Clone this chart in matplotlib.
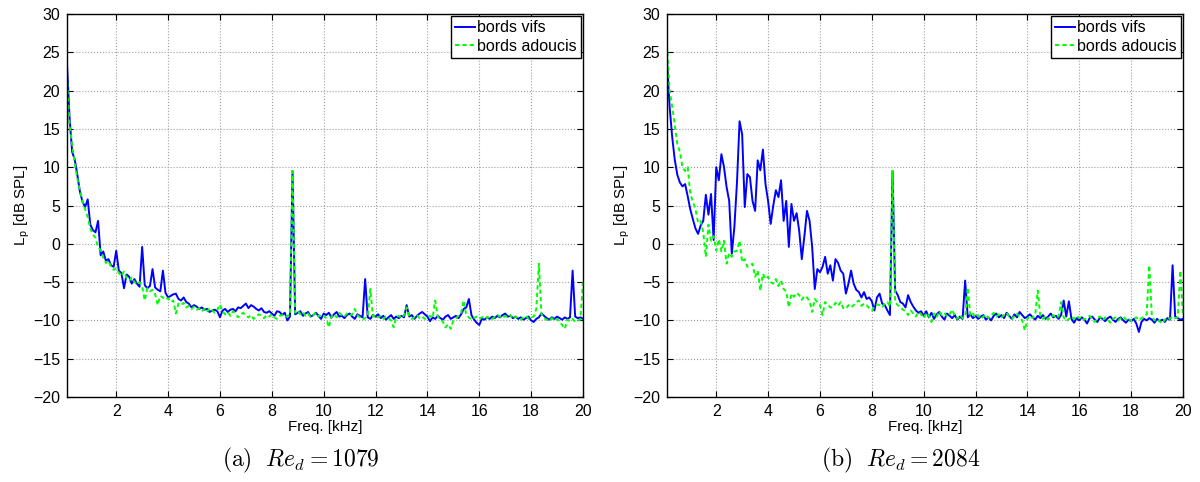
import numpy as np
import matplotlib
matplotlib.use("Agg")
import matplotlib.pyplot as plt

# Sound pressure level spectra, sharp edges vs rounded edges
# values, one point every 0.1 kHz from 0.1 to 20 kHz
freq = np.round(np.arange(1, 201) * 0.1, 1)

# (a) Re_d = 1079
vifs_a = [
    23.5, 16.5, 12.0, 11.0, 9.0, 6.8, 5.5, 4.8, 5.8, 2.5,
    1.8, 1.5, 3.0, -1.5, -1.0, -2.2, -2.0, -2.8, -3.0, -0.9,
    -3.5, -3.8, -5.8, -4.0, -4.3, -5.2, -4.6, -5.2, -5.6, -0.4,
    -5.4, -5.8, -5.5, -3.3, -5.7, -6.0, -6.2, -3.5, -6.4, -7.0,
    -6.8, -6.6, -6.5, -7.2, -7.4, -7.0, -7.6, -7.8, -8.3, -8.0,
    -8.2, -8.5, -8.3, -8.6, -8.5, -8.9, -8.7, -8.6, -8.8, -9.6,
    -8.7, -8.5, -8.9, -8.6, -8.5, -8.8, -8.3, -8.4, -8.1, -7.8,
    -8.4, -8.0, -8.2, -8.5, -8.7, -8.4, -8.9, -9.0, -8.8, -9.1,
    -9.4, -8.8, -8.9, -9.3, -9.0, -10.0, -9.5, 9.5, -9.2, -9.0,
    -8.8, -9.4, -9.1, -8.9, -9.5, -9.3, -9.0, -9.4, -9.8, -9.1,
    -9.3, -9.0, -9.6, -9.2, -8.9, -9.5, -9.4, -9.7, -9.3, -9.1,
    -9.5, -9.8, -9.2, -9.4, -9.6, -4.6, -9.6, -9.8, -9.3, -9.5,
    -9.2, -9.7, -9.4, -9.9, -9.6, -9.3, -9.8, -9.5, -9.7, -9.4,
    -9.6, -8.0, -9.5, -9.3, -9.8, -9.4, -9.1, -8.9, -9.2, -9.5,
    -10.1, -9.6, -9.8, -9.4, -9.7, -9.9, -9.5, -9.3, -9.8, -9.6,
    -9.4, -9.7, -9.2, -8.5, -8.3, -7.2, -9.3, -9.9, -10.3, -10.6,
    -9.8, -9.9, -9.6, -9.8, -9.5, -9.7, -9.4, -9.6, -9.3, -9.1,
    -9.5, -9.4, -9.7, -9.5, -9.8, -9.6, -9.9, -9.7, -9.5, -10.0,
    -10.2, -9.8, -9.6, -9.1, -9.4, -9.7, -9.9, -9.6, -9.8, -9.5,
    -9.7, -9.9, -9.6, -9.8, -9.6, -3.5, -9.5, -9.7, -9.6, -9.8,
]
adoucis_a = [
    22.0, 15.5, 13.0, 10.5, 8.5, 7.0, 5.6, 4.5, 3.5, 2.0,
    1.2, 0.8, -0.5, -0.8, -1.8, -2.5, -2.2, -3.0, -3.4, -3.2,
    -3.8, -4.2, -3.6, -4.5, -4.8, -4.4, -5.0, -5.3, -5.0, -5.6,
    -7.4, -5.8, -6.2, -6.0, -6.6, -8.0, -6.8, -7.0, -7.3, -7.1,
    -7.6, -7.4, -9.1, -7.8, -8.0, -7.7, -8.3, -8.1, -8.5, -8.2,
    -8.6, -8.4, -8.8, -8.5, -8.9, -8.4, -8.7, -9.0, -8.6, -7.9,
    -8.8, -9.2, -8.9, -9.4, -8.8, -9.1, -9.6, -9.2, -9.0, -9.4,
    -9.6, -9.3, -9.8, -9.5, -9.2, -9.4, -9.7, -9.3, -9.5, -9.2,
    -9.6, -9.8, -9.4, -9.3, -9.6, -9.4, -9.3, 9.5, -9.0, -8.7,
    -9.2, -8.9, -9.4, -9.1, -9.6, -9.3, -9.0, -9.5, -9.2, -9.4,
    -9.7, -10.9, -9.5, -9.2, -9.6, -9.0, -9.3, -9.5, -9.1, -9.4,
    -9.2, -8.5, -9.3, -9.6, -9.9, -9.7, -9.4, -5.9, -9.5, -9.3,
    -9.6, -9.4, -9.8, -9.5, -9.7, -10.0, -10.9, -9.6, -9.4, -9.7,
    -9.3, -8.3, -9.5, -9.8, -9.6, -9.3, -9.7, -9.5, -9.8, -9.6,
    -9.4, -9.7, -7.4, -9.5, -9.8, -10.2, -10.9, -10.5, -11.1, -10.0,
    -9.7, -9.4, -9.0, -7.4, -9.3, -9.6, -9.9, -9.7, -9.5, -9.8,
    -9.6, -9.4, -9.7, -9.5, -9.8, -9.6, -9.3, -9.5, -9.7, -9.4,
    -9.6, -9.3, -9.8, -9.5, -9.7, -9.9, -9.6, -9.4, -9.8, -9.6,
    -9.5, -8.5, -2.6, -9.2, -9.7, -9.9, -10.1, -9.7, -10.0, -9.8,
    -10.2, -10.6, -11.1, -9.9, -10.1, -9.8, -10.2, -10.0, -9.9, -5.0,
]

# (b) Re_d = 2084
vifs_b = [
    24.0, 18.0, 14.0, 11.0, 9.0, 8.0, 7.5, 7.8, 6.2, 4.5,
    3.2, 2.0, 1.3, 2.4, 3.0, 6.4, 3.8, 6.5, 0.5, 10.0,
    8.3, 11.7, 10.0, 7.4, 5.6, -1.3, 2.2, 8.0, 16.0, 14.3,
    4.8, 9.1, 8.7, 5.6, 4.3, 10.9, 9.6, 12.3, 7.8, 5.6,
    2.6, 5.0, 7.0, 6.1, 8.3, 3.0, 5.6, -0.4, 5.2, 3.0,
    4.0, 1.7, -2.0, 1.0, 4.3, 3.0, -0.4, -5.9, -3.3, -3.7,
    -3.0, -1.7, -3.9, -2.8, -4.8, -2.0, -2.5, -3.5, -3.9, -6.5,
    -5.2, -3.5, -5.2, -6.0, -6.3, -7.0, -6.3, -7.2, -7.0, -7.5,
    -8.7, -7.0, -6.5, -7.8, -8.0, -8.7, -9.3, 9.5, -6.1, -6.7,
    -7.6, -7.8, -8.3, -6.7, -7.6, -8.2, -8.7, -9.0, -8.8, -9.4,
    -8.8, -9.6, -9.0, -9.8, -9.2, -8.9, -9.5, -9.9, -9.1, -9.4,
    -9.7, -9.3, -9.9, -9.5, -9.8, -4.8, -9.6, -9.2, -9.7, -9.4,
    -9.8, -9.5, -9.3, -9.9, -9.6, -10.0, -9.4, -9.1, -9.6, -9.3,
    -9.7, -9.0, -9.4, -9.8, -9.2, -9.6, -8.9, -9.3, -9.7, -9.5,
    -9.2, -9.6, -9.9, -9.4, -9.7, -9.3, -9.8, -9.5, -9.1, -9.6,
    -9.4, -9.8, -9.3, -7.4, -9.5, -7.5, -9.8, -10.3, -9.7, -10.0,
    -9.6, -9.9, -10.4, -9.7, -9.5, -9.9, -10.2, -9.6, -9.8, -10.1,
    -9.7, -9.5, -9.9, -10.2, -9.8, -9.6, -10.0, -10.3, -9.9, -10.1,
    -9.8, -10.4, -11.5, -10.2, -9.8, -10.0, -9.7, -9.9, -10.3, -9.8,
    -10.1, -9.9, -10.2, -9.7, -9.9, -2.8, -9.5, -9.7, -9.9, -9.8,
]
adoucis_b = [
    26.0, 20.0, 18.0, 15.5, 13.0, 12.0, 10.0, 9.5, 10.0, 6.5,
    5.5, 4.5, 2.8, 3.0, 1.5, -1.7, 2.5, 0.4, 1.0, -0.9,
    0.6, -1.0, 0.4, -2.6, -1.2, -1.7, -1.0, -0.9, 0.4, -2.4,
    -2.0, -3.0, -2.8, -2.6, -4.3, -3.5, -6.1, -3.9, -4.6, -4.3,
    -5.0, -5.2, -4.6, -5.5, -4.8, -5.9, -6.2, -8.3, -6.5, -6.9,
    -6.4, -6.7, -7.3, -6.8, -7.0, -7.5, -8.9, -7.2, -7.6, -8.0,
    -9.3, -7.6, -7.9, -8.3, -8.3, -7.7, -8.1, -7.6, -8.4, -8.5,
    -8.0, -8.3, -8.0, -7.6, -7.4, -8.1, -7.8, -8.0, -8.4, -8.7,
    -8.2, -7.9, -8.0, -8.3, -7.8, -7.6, -8.2, 9.5, -7.6, -8.0,
    -8.3, -8.6, -8.8, -9.3, -8.7, -9.1, -9.5, -8.9, -9.2, -9.7,
    -9.0, -9.4, -10.2, -9.1, -9.6, -8.8, -9.3, -9.0, -9.5, -9.2,
    -8.6, -9.4, -9.8, -9.3, -9.7, -9.5, -5.7, -9.4, -9.1, -9.6,
    -9.3, -9.8, -9.5, -9.2, -9.7, -9.4, -9.0, -9.5, -9.2, -9.6,
    -9.3, -9.0, -9.5, -9.8, -9.4, -9.1, -9.6, -10.0, -11.3, -9.8,
    -9.4, -9.7, -9.3, -6.1, -9.5, -9.8, -9.4, -9.9, -9.6, -9.3,
    -9.7, -9.5, -7.6, -9.6, -10.1, -9.8, -9.5, -9.8, -9.4, -9.7,
    -9.5, -9.9, -9.6, -9.4, -9.8, -10.2, -9.7, -9.5, -10.0, -9.6,
    -9.9, -10.3, -9.8, -9.6, -10.0, -9.7, -9.5, -9.9, -9.7, -10.1,
    -9.8, -9.6, -10.0, -9.7, -9.5, -9.2, -2.8, -9.4, -10.0, -9.8,
    -10.1, -10.4, -9.9, -9.6, -9.8, -9.5, -9.7, -9.6, -3.5, -9.5,
]

captions = [r'$\mathrm{(a)}\ \ Re_d = 1079$', r'$\mathrm{(b)}\ \ Re_d = 2084$']

plt.rcParams['font.family'] = ['Liberation Sans', 'DejaVu Sans']
plt.rcParams['mathtext.fontset'] = 'cm'
plt.rcParams['axes.unicode_minus'] = True

fig = plt.figure(figsize=(12, 4.82), dpi=100)
positions = [[0.0558, 0.1763, 0.430, 0.7946], [0.5558, 0.1763, 0.430, 0.7946]]
data = [(vifs_a, adoucis_a), (vifs_b, adoucis_b)]

for pos, (vifs, adoucis), cap in zip(positions, data, captions):
    ax = fig.add_axes(pos)
    ax.plot(freq, vifs, color='#0000ff', lw=1.4, label='bords vifs')
    ax.plot(freq, adoucis, color='#00ff00', lw=1.4, ls=(0, (2.2, 1.6)), label='bords adoucis')

    ax.set_xlim(0.1, 20)
    ax.set_ylim(-20, 30)
    ax.set_xticks(np.arange(2, 21, 2))
    ax.set_yticks(np.arange(-20, 31, 5))
    ax.tick_params(direction='in', top=True, right=True, length=4, labelsize=11.5, pad=5)
    ax.grid(True, ls=':', color='#a0a0a0', lw=0.8)
    for sp in ax.spines.values():
        sp.set_linewidth(1.0)

    ax.set_xlabel('Freq. [kHz]', fontsize=11, labelpad=1)
    ax.set_ylabel(r'L$_\mathregular{p}$ [dB SPL]', fontsize=11, labelpad=1)

    leg = ax.legend(loc='upper right', fontsize=11.5, handlelength=1.2, handletextpad=0.15,
                    labelspacing=0.2, borderpad=0.25, borderaxespad=0.15, fancybox=False,
                    framealpha=1)
    leg.get_frame().set_edgecolor('black')
    leg.get_frame().set_linewidth(1.0)

    fig.text(pos[0] + pos[2] / 2 - 0.02, 0.044, cap, ha='center', va='center', fontsize=17)

fig.savefig('out.png', dpi=100)
